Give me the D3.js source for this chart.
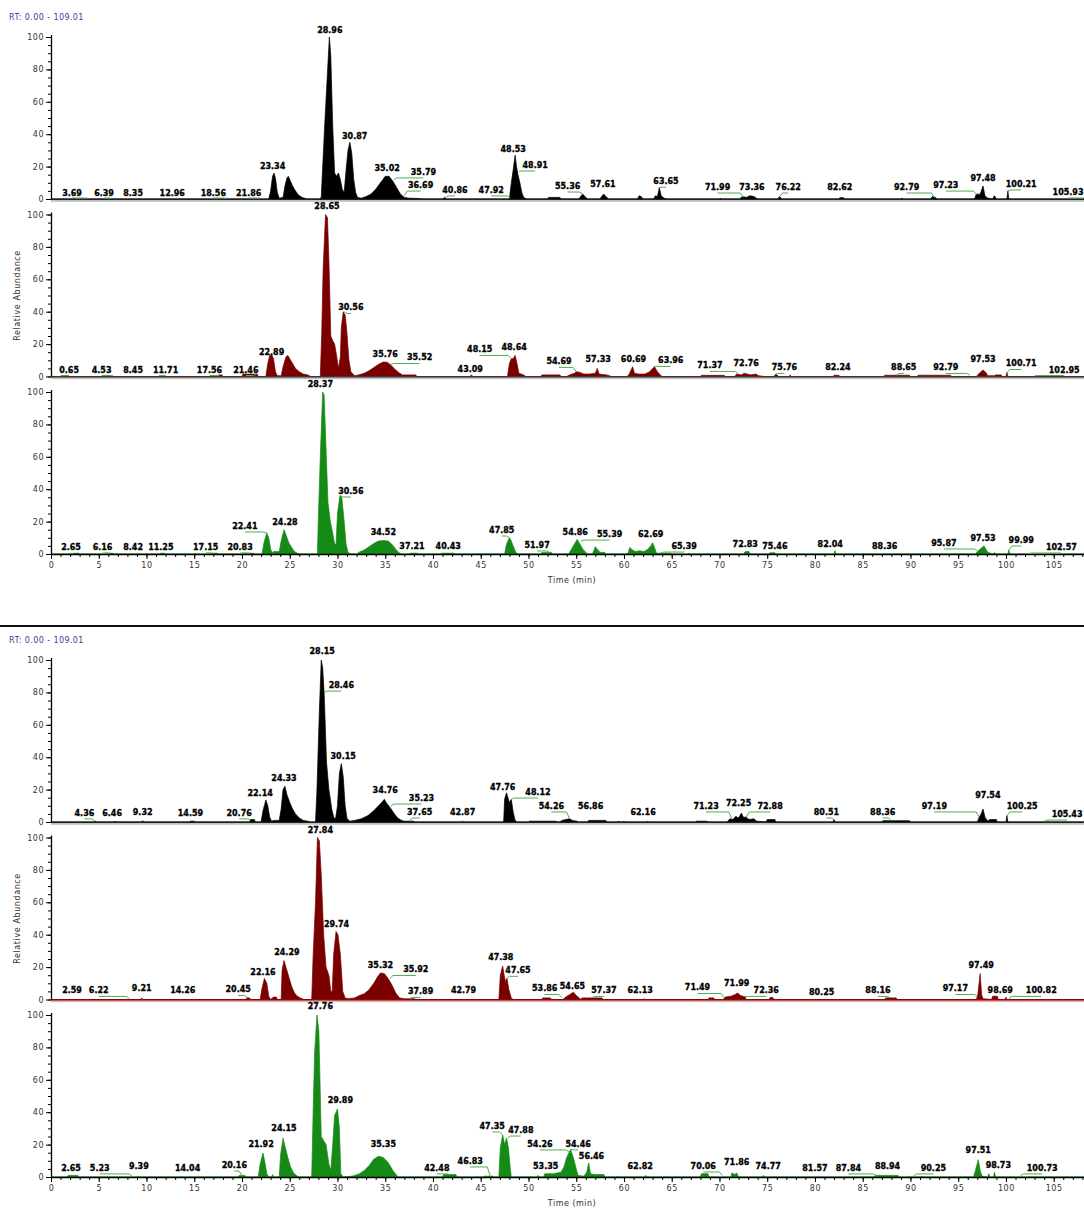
<!DOCTYPE html>
<html>
<head>
<meta charset="utf-8">
<script src="https://cdn.jsdelivr.net/npm/d3@7/dist/d3.min.js"></script>
<style>
  body { margin: 0; background: #fff; }
  svg { display: block; }
  text { font-family: "DejaVu Sans", sans-serif; }
</style>
</head>
<body>
<svg id="chart"></svg>
<script>
const W = 1084, H = 1209;

// retention time window and axis ticks
const rtRange = [0, 109.01];
const yTickLabels = [0, 20, 40, 60, 80, 100];
const xTickLabels = [0, 5, 10, 15, 20, 25, 30, 35, 40, 45, 50, 55, 60, 65, 70, 75, 80, 85, 90, 95, 100, 105];
const headerText = 'RT: 0.00 - 109.01';

// traces: [time (min), relative abundance]
const trace1 = [[0,0],[2.3,0],[2.4,0.4],[2.6,0],[22.8,0],[23.0,5],[23.2,14],[23.35,16],[23.5,13],[23.7,4],[23.9,0.5],[24.3,1],[24.5,8],[24.7,13],[24.85,14],[25.0,12],[25.3,8],[25.6,5],[25.9,2.5],[26.3,1],[26.8,0],[28.1,0],[28.3,1],[28.45,20],[28.7,50],[28.95,78],[29.15,100],[29.3,88],[29.5,45],[29.7,16],[29.9,14],[30.1,16],[30.3,12],[30.5,6],[30.7,4],[30.9,18],[31.1,30],[31.3,35],[31.5,28],[31.7,12],[31.9,4],[32.1,1],[32.5,0.5],[33.0,1.5],[33.5,3],[34.0,6],[34.5,10],[35.0,14],[35.4,14],[35.8,11],[36.2,7],[36.6,3],[37.0,1],[37.5,0.5],[38.5,0.3],[39.0,0],[41.0,0],[41.2,1],[41.4,0],[48.0,0],[48.2,10],[48.4,18],[48.6,27],[48.75,20],[48.9,15],[49.1,10],[49.3,4],[49.5,1],[49.8,0],[52.0,0],[52.1,1],[53.3,1],[53.4,0],[55.3,0],[55.5,2],[55.7,3],[55.9,1.5],[56.2,0],[57.5,0],[57.7,2],[57.9,3],[58.1,1.5],[58.4,0],[61.4,0],[61.6,2],[61.8,1.5],[62.0,0],[63.1,0],[63.3,2],[63.5,1.5],[63.7,7],[63.9,2],[64.2,0.5],[64.5,0],[70.0,0],[70.1,0.6],[70.2,0],[72.1,0],[72.4,1.5],[72.8,1],[73.2,2],[73.6,1.5],[74.0,0],[76.1,0],[76.3,1.5],[76.5,0],[82.5,0],[82.6,0.8],[83.0,0.8],[83.1,0],[89.0,0],[89.1,0.6],[89.2,0],[92.1,0],[92.3,1.5],[92.6,1],[92.8,0],[96.7,0],[96.9,3],[97.3,3],[97.6,8],[97.8,2],[98.1,0.5],[98.6,0],[98.8,2],[99.0,0],[100.1,0],[100.2,5],[100.3,0],[109.01,0]];
const trace2 = [[0,0],[1.0,0],[1.1,0.5],[1.7,0.5],[1.8,0],[17.5,0],[17.6,1],[17.9,1],[18.0,0],[20.0,0],[20.1,1.5],[21.6,1.5],[21.7,0],[22.5,0],[22.7,8],[22.9,13],[23.1,13.6],[23.3,11],[23.5,3],[23.7,0.5],[24.1,0.5],[24.3,6],[24.6,12],[24.8,13],[25.0,11],[25.3,8],[25.6,5],[26.0,3],[26.4,1.5],[26.9,1],[27.2,0],[28.2,0],[28.35,27],[28.5,67],[28.75,100],[28.95,98],[29.1,72],[29.3,25],[29.5,22],[29.7,20],[29.9,13],[30.1,5],[30.3,12],[30.4,30],[30.6,40],[30.8,38],[30.95,30],[31.2,10],[31.4,3],[31.8,0.5],[32.2,1],[32.8,2],[33.3,3.5],[33.8,5.5],[34.3,7.5],[34.8,9],[35.2,8.8],[35.6,7],[36.0,4.5],[36.4,2.5],[36.8,1],[37.0,1],[38.2,1],[38.3,0],[43.9,0],[44.0,1],[44.2,0],[47.8,0],[48.0,8],[48.2,11],[48.4,11],[48.6,13],[48.8,8],[49.0,2],[49.5,1],[49.7,0],[51.3,0],[51.4,1],[53.3,1],[53.4,0],[54.0,0],[54.3,1],[54.8,2],[55.0,3],[55.4,2.5],[55.8,1.5],[56.4,1.5],[57.0,2],[57.2,5],[57.4,1.5],[58.2,1],[58.7,0],[60.3,0],[60.5,1],[60.9,6],[61.1,2],[61.5,1.5],[62.2,1.5],[62.7,3],[63.0,5],[63.2,6],[63.5,3],[63.8,1],[64.0,0],[68.0,0],[68.1,0.7],[70.5,0.7],[70.6,0],[71.6,0],[71.8,1.5],[72.3,1],[72.6,2],[72.9,1.5],[73.3,1],[73.8,1.5],[74.1,0.5],[74.7,0],[75.7,0],[75.9,1.5],[76.2,0],[77.3,0],[77.4,1],[77.5,0],[81.9,0],[82.0,0.8],[82.5,0.8],[82.6,0],[87.2,0],[87.3,0.8],[89.9,0.8],[90.0,0],[90.7,0],[90.8,0.8],[94.2,0.8],[94.3,0],[96.9,0],[97.2,2],[97.6,4],[97.9,2.5],[98.1,0.5],[98.8,0.5],[98.9,1],[99.5,1],[99.6,0],[100.0,0],[100.1,2.5],[100.2,0],[109.01,0]];
const trace3 = [[0,0],[2.3,0],[2.4,0.5],[2.9,0.5],[3.0,0],[5.6,0],[5.7,0.5],[6.5,0.5],[6.6,0],[11.4,0],[11.5,0.5],[11.9,0.5],[12.0,0],[16.3,0],[16.4,0.5],[17.4,0.5],[17.5,0],[19.9,0],[20.0,0.5],[21.2,0.5],[21.3,0],[22.1,0],[22.3,7],[22.6,13],[22.8,10],[23.0,3],[23.2,0.5],[23.3,1.5],[23.9,1.5],[24.1,8],[24.4,15],[24.6,12],[24.9,7],[25.2,4],[25.5,1.5],[25.8,0.5],[26.1,0],[27.9,0],[28.0,23],[28.2,60],[28.45,100],[28.6,98],[28.8,65],[29.0,32],[29.25,20],[29.5,13],[29.7,6],[29.85,6],[30.0,25],[30.25,36],[30.45,35],[30.7,20],[30.9,6],[31.1,1],[31.4,0],[32.0,0],[32.2,1],[32.8,2.5],[33.3,4.5],[33.8,6.5],[34.3,8],[34.8,8.3],[35.3,8],[35.7,6],[36.1,3],[36.4,1],[36.7,0],[37.5,0],[37.6,0.5],[38.4,0.5],[38.5,0],[40.8,0],[40.9,0.5],[42.2,0.5],[42.3,0],[47.5,0],[47.7,6],[48.0,10],[48.2,8],[48.4,5],[48.6,2],[48.8,0],[51.3,0],[51.4,1],[52.4,1],[52.5,0],[54.2,0],[54.5,3],[54.8,6],[55.1,9],[55.4,6],[55.7,3],[56.0,1],[56.2,0],[56.7,0],[56.9,3],[57.0,4.5],[57.2,3],[57.5,1],[58.0,1],[58.1,0],[60.4,0],[60.6,4],[60.9,2.5],[61.2,1.5],[61.6,2],[62.1,1.5],[62.5,3],[62.8,5],[63.0,7],[63.2,4],[63.4,0.5],[64.9,0.5],[65.0,0],[66.7,0],[66.8,0.5],[66.9,0],[72.5,0],[72.7,1.5],[73.1,1.5],[73.2,0],[75.1,0],[75.3,0.8],[75.8,0.8],[75.9,0],[82.0,0],[82.1,2],[82.2,0],[96.8,0],[97.1,2],[97.4,3.5],[97.7,5],[97.9,3],[98.1,1],[98.7,0],[98.8,1],[98.9,0],[100.2,0],[100.3,2.5],[100.4,0],[109.01,0]];
const trace4 = [[0,0],[4.5,0],[4.6,0.5],[4.8,0],[6.6,0],[6.7,0.5],[6.8,0],[9.5,0],[9.6,0.8],[9.7,0],[14.5,0],[14.6,0.5],[15.0,0.5],[15.1,0],[20.8,0],[20.9,1.5],[21.3,1.5],[21.4,0],[22.0,0],[22.2,7],[22.5,13.6],[22.7,10],[22.9,3],[23.1,0.5],[23.3,1],[23.9,1],[24.1,8],[24.3,20],[24.5,22],[24.7,17],[25.0,12],[25.3,8],[25.6,5],[26.0,2.5],[26.4,1],[26.9,0.5],[27.1,0],[27.7,0],[27.85,20],[28.1,68],[28.3,100],[28.45,95],[28.6,80],[28.85,37],[29.1,20],[29.4,8],[29.6,3],[29.8,2],[30.0,10],[30.2,30],[30.4,36],[30.6,28],[30.8,10],[31.0,2],[31.3,0.5],[31.8,1],[32.5,2],[33.2,4],[33.8,7],[34.3,10],[34.7,12.5],[34.9,14],[35.1,12],[35.5,9],[35.9,5.5],[36.3,2.5],[36.7,1],[37.0,0.5],[38.0,0.5],[38.1,0],[43.0,0],[43.1,0.5],[43.2,0],[47.4,0],[47.5,14],[47.7,18],[47.85,15],[48.0,12],[48.2,14],[48.4,6],[48.6,1],[48.8,0],[50.0,0],[50.1,0.5],[52.9,0.5],[53.0,0],[53.3,0],[53.5,1],[53.9,1.5],[54.3,2],[54.6,1],[55.1,0.5],[55.2,0],[56.2,0],[56.3,1],[58.1,1],[58.2,0],[59.4,0],[59.5,0.5],[59.6,0],[59.9,0],[60.0,0.5],[60.1,0],[62.4,0],[62.5,0.5],[62.6,0],[67.5,0],[67.6,0.5],[68.7,0.5],[68.8,0],[70.8,0],[71.1,2],[71.4,1.5],[71.7,3.5],[72.0,2.5],[72.3,5.5],[72.5,3],[72.8,3],[73.1,1.5],[73.6,2],[73.9,0.5],[74.9,0],[75.0,1.5],[75.8,1.5],[75.9,0],[81.9,0],[82.0,1.5],[82.1,0],[87.0,0],[87.1,0.8],[89.9,0.8],[90.0,0],[97.0,0],[97.2,3],[97.4,5],[97.6,8],[97.8,3],[98.1,0.5],[98.3,1.5],[99.0,1.5],[99.1,0],[100.0,0],[100.1,4],[100.2,0],[109.01,0]];
const trace5 = [[0,0],[9.4,0],[9.5,1],[9.6,0],[20.4,0],[20.5,1],[20.8,1],[20.9,0],[21.9,0],[22.1,7],[22.35,13],[22.6,10],[22.8,2],[23.0,0],[23.3,1.5],[23.6,1.5],[23.7,0],[24.1,0],[24.2,18],[24.4,24],[24.6,20],[24.9,14],[25.2,8],[25.5,4],[25.8,2],[26.1,1],[26.5,0],[27.3,0],[27.45,27],[27.7,60],[27.9,100],[28.1,98],[28.3,77],[28.55,40],[28.8,20],[29.1,15],[29.3,5],[29.45,5],[29.6,28],[29.85,42],[30.05,40],[30.3,28],[30.55,5],[30.8,1],[31.1,0.5],[31.8,1],[32.3,2.5],[32.8,3.5],[33.3,6],[33.8,10],[34.2,14],[34.5,16.4],[34.9,16],[35.3,13],[35.7,9],[36.1,4],[36.5,1],[37.0,0.5],[38.1,0.5],[38.2,0],[46.9,0],[47.05,15],[47.3,20.7],[47.45,15],[47.6,11],[47.75,13],[47.95,6],[48.2,1],[48.4,0],[51.4,0],[51.5,1],[52.3,1],[52.4,0],[53.6,0],[53.9,1.5],[54.3,3],[54.7,4.5],[55.0,2.5],[55.3,1],[55.5,0],[55.6,1],[57.7,1],[57.8,0],[62.0,0],[62.1,0.5],[62.2,0],[68.8,0],[68.9,1],[69.4,1],[69.5,0],[70.4,0],[70.6,1.5],[71.2,2],[71.6,3],[71.9,4],[72.2,2.5],[72.7,1.5],[72.8,0],[75.2,0],[75.3,1.2],[75.6,1.2],[75.7,0],[87.3,0],[87.4,1],[88.5,1],[88.6,0],[96.9,0],[97.05,3],[97.3,16],[97.45,3],[97.6,0.5],[98.5,0],[98.6,2],[99.1,2],[99.2,0],[99.9,0],[100.0,1.5],[100.1,0],[109.01,0]];
const trace6 = [[0,0],[1.7,0],[1.8,1],[2.8,1],[2.9,0],[9.0,0],[9.1,0.5],[9.2,0],[19.6,0],[19.7,1],[20.3,1],[20.4,0],[21.7,0],[21.9,8],[22.2,14.8],[22.4,9],[22.6,2],[22.8,0],[23.1,0],[23.2,1.5],[23.3,0],[23.9,0],[24.05,14],[24.3,24],[24.5,19],[24.8,12],[25.1,6],[25.4,2.5],[25.8,0.5],[26.0,0],[27.3,0],[27.45,40],[27.6,76],[27.85,100],[28.05,90],[28.3,25],[28.6,22],[28.8,20],[29.1,8],[29.3,4],[29.5,20],[29.7,38],[30.0,42],[30.2,30],[30.35,2],[30.6,0],[31.5,0.5],[31.8,1],[32.3,2],[32.8,4],[33.3,7],[33.8,11],[34.3,12.8],[34.8,12],[35.3,9],[35.8,4],[36.2,1],[36.4,0],[41.0,0],[41.1,1.5],[42.4,1.5],[42.5,0],[45.3,0],[45.4,0.5],[46.3,0.5],[46.4,0],[46.9,0],[47.05,18],[47.3,26],[47.5,20],[47.7,24],[47.9,18],[48.1,5],[48.2,0],[50.9,0],[51.0,1],[51.1,0],[51.6,0],[51.7,2],[52.6,2],[53.0,2.5],[53.4,3],[53.7,6],[54.0,12],[54.4,17],[54.7,12],[55.0,5],[55.2,1],[55.8,0.5],[56.1,3],[56.3,8.7],[56.5,2],[56.9,1.5],[57.9,1.5],[58.0,0],[59.2,0],[59.3,0.5],[59.4,0],[62.2,0],[62.3,1],[62.4,0],[68.0,0],[68.1,2],[68.8,2],[68.9,0],[71.2,0],[71.3,2.5],[71.6,1.5],[71.8,2.5],[72.0,0],[74.5,0],[74.6,1],[74.7,0],[80.3,0],[80.4,0.5],[80.5,0],[86.2,0],[86.3,1],[88.7,1],[88.8,0],[91.1,0],[91.2,0.5],[91.3,0],[96.6,0],[96.8,4],[97.1,10.7],[97.3,4],[97.5,0.5],[98.1,0],[98.2,2],[98.3,0],[98.7,0],[98.8,3],[98.9,0],[109.01,0]];

// peak labels: [text, label time, label abundance, peak time, peak abundance]
const labels1 = [['3.69',2.2,3.7,3.8,0.5],['6.39',5.55,3.7,6.3,0.5],['8.35',8.6,3.7,8.6,0.3],['12.96',12.7,3.7,12.9,0.3],['18.56',17.0,3.7,18.3,0.5],['21.86',20.7,3.7,21.9,0.5],['23.34',23.2,20.4,23.35,16],['28.96',29.2,104,29.15,100],['30.87',31.8,39,31.3,35],['35.02',35.2,19,35.2,14],['35.79',39.0,16.7,35.9,12],['36.69',38.7,8.6,37.0,2],['40.86',42.3,5.6,41.3,1],['47.92',46.1,5.6,48.1,1],['48.53',48.4,31,48.6,27],['48.91',50.7,21,49.0,17],['55.36',54.1,8,55.7,3],['57.61',57.8,9.3,57.9,3],['63.65',64.4,11,63.7,7],['71.99',69.8,7.4,72.5,1],['73.36',73.4,7.4,73.6,2],['76.22',77.2,7.4,76.3,1.5],['82.62',82.6,7.4,82.7,0.8],['92.79',89.6,7.4,92.5,1],['97.23',93.7,8.6,96.9,3],['97.48',97.6,13,97.6,8],['100.21',101.6,9.3,100.2,5],['105.93',106.5,4.3,108.5,0.5]];
const labels2 = [['0.65',1.9,3.7,1.0,0.5],['4.53',5.3,3.7,6.5,0.5],['8.45',8.6,3.7,8.6,0.3],['11.71',12.0,3.7,11.3,0.5],['17.56',16.6,3.7,17.7,1],['21.46',20.4,3.7,21.5,1.5],['22.89',23.1,14.8,23.1,13.6],['28.65',28.9,105,28.8,100],['30.56',31.4,42.6,30.7,40],['35.76',35.0,13.6,34.9,9],['35.52',38.6,11.7,35.6,7.5],['43.09',43.9,4.3,44.1,1],['48.15',44.9,16.7,48.2,11],['48.64',48.5,17.9,48.6,13],['54.69',53.2,9.3,55.0,3],['57.33',57.3,10.5,57.2,5],['60.69',61.0,10.5,60.9,6],['63.96',64.9,9.9,63.1,6],['71.37',69.0,6.8,72.0,1.5],['72.76',72.8,8,72.9,2],['75.76',76.8,5.6,75.9,1.5],['82.24',82.4,5.6,82.3,0.8],['88.65',89.3,5.6,88.5,0.8],['92.79',93.7,5.6,96.2,1],['97.53',97.6,10.5,97.6,4],['100.71',101.6,8,100.1,2.5],['102.95',106.1,3.7,103.0,0.5]];
const labels3 = [['2.65',2.1,4.3,2.6,0.5],['6.16',5.4,4.3,6.1,0.5],['8.42',8.6,4.3,8.4,0.3],['11.25',11.5,4.3,11.6,0.5],['17.15',16.2,4.3,16.9,0.5],['20.83',19.8,4.3,20.8,0.5],['22.41',20.3,17.3,22.6,13],['24.28',24.5,19.8,24.4,15],['28.37',28.2,104.6,28.45,100],['30.56',31.4,38.9,30.3,36],['34.52',34.8,13.6,34.7,8.3],['37.21',37.8,4.9,38.0,0.5],['40.43',41.6,4.9,41.5,0.5],['47.85',47.2,14.8,48.0,10],['51.97',50.9,5.6,52.2,1],['54.86',54.9,13.6,55.1,9],['55.39',58.5,12.3,55.5,8],['62.69',62.8,12.3,63.0,7],['65.39',66.3,4.9,63.8,0.5],['72.83',72.7,6.2,72.9,1.5],['75.46',75.8,4.9,75.5,0.8],['82.04',81.6,6.2,82.1,2],['88.36',87.3,4.9,87.5,0.3],['95.87',93.5,6.8,97.0,2],['97.53',97.6,9.9,97.7,5],['99.99',101.6,8.6,100.3,2.5],['102.57',105.8,4.3,102.5,0.5]];
const labels4 = [['4.36',3.5,5.6,4.6,0.5],['6.46',6.4,5.6,6.7,0.5],['9.32',9.6,6.2,9.6,0.8],['14.59',14.6,5.6,14.7,0.5],['20.76',19.7,5.6,20.9,1.5],['22.14',21.9,18,22.5,13.6],['24.33',24.4,27,24.5,22],['28.15',28.4,105.6,28.3,100],['28.46',30.4,84.5,28.6,80],['30.15',30.6,40.7,30.4,36],['34.76',35.0,19.8,34.9,14],['35.23',38.8,14.8,35.6,10],['37.65',38.6,6.2,37.5,0.5],['42.87',43.1,6.2,43.1,0.5],['47.76',47.3,21.6,47.7,18],['48.12',51.0,18.5,48.2,14],['54.26',52.4,9.9,54.3,2],['56.86',56.5,9.9,56.5,1],['62.16',62.0,6.2,62.5,0.5],['71.23',68.6,9.9,71.3,2],['72.25',72.0,11.7,72.3,5.5],['72.88',75.3,9.9,72.8,3],['80.51',81.2,6.2,82.0,1.5],['88.36',87.1,6.2,88.0,0.8],['97.19',92.5,9.9,97.2,3],['97.54',98.1,16.7,97.6,8],['100.25',101.7,9.9,100.1,4],['105.43',106.4,4.9,104.0,0.5]];
const labels5 = [['2.59',2.2,5.6,2.6,0.5],['6.22',5.0,5.6,8.2,0.5],['9.21',9.5,6.8,9.5,1],['14.26',13.8,5.6,14.3,0.3],['20.45',19.6,6.2,20.6,1],['22.16',22.2,17,22.35,13],['24.29',24.7,29,24.4,24],['27.84',28.2,104.3,27.9,100],['29.74',29.9,46.3,29.85,42],['35.32',34.5,21,34.5,16.4],['35.92',38.2,18.5,35.5,13],['37.89',38.7,4.9,37.5,0.5],['42.79',43.2,5.6,43.2,0.3],['47.38',47.1,26,47.3,20.7],['47.65',48.9,18,47.7,13],['53.86',51.7,6.8,53.5,1],['54.65',54.6,8,54.7,4.5],['57.37',57.9,5.6,56.6,1],['62.13',61.7,5.6,62.1,0.5],['71.49',67.7,7.4,70.5,1],['71.99',71.8,9.9,71.9,4],['72.36',74.9,5.6,72.6,2],['80.25',80.7,4.3,80.3,0.3],['88.16',86.6,5.6,87.9,1],['97.17',94.7,6.8,97.0,2],['97.49',97.4,21,97.3,16],['98.69',99.4,5.6,98.8,2],['100.82',103.7,5.6,100.3,0.5]];
const labels6 = [['2.65',2.1,5.6,2.5,1],['5.23',5.1,5.6,8.5,0.5],['9.39',9.2,6.8,9.2,0.5],['14.04',14.3,5.6,14.3,0.3],['20.16',19.2,7.4,20.0,1],['21.92',22.0,20.4,22.2,14.8],['24.15',24.4,30,24.3,24],['27.76',28.2,105.6,27.85,100],['29.89',30.3,47.5,30.0,42],['35.35',34.8,20.4,34.3,12.8],['42.48',40.4,5.6,41.8,1.5],['46.83',43.9,9.9,46.0,0.5],['47.35',46.2,31.5,47.3,26],['47.88',49.2,29,47.8,24],['54.26',51.2,20.4,54.3,15],['53.35',51.8,6.8,52.3,2],['54.46',55.2,20.4,54.4,17],['56.46',56.6,13,56.3,8.7],['62.82',61.7,6.8,62.3,1],['70.06',68.3,6.8,70.3,1],['71.86',71.8,9.3,71.6,2.5],['74.77',75.1,6.8,74.6,1],['81.57',80.0,5.6,80.4,0.5],['87.84',83.5,5.6,86.4,1],['88.94',87.6,6.8,88.0,1],['90.25',92.4,5.6,90.3,0.5],['97.51',97.1,16.7,97.1,10.7],['98.73',99.2,7.4,98.8,3],['100.73',103.8,5.6,101.5,0.5]];

const panels = [
  { trace: trace1, labels: labels1, fill: '#000000', base: '#222', shade: '#bdbdbd', fig: 0, row: 0 },
  { trace: trace2, labels: labels2, fill: '#7a0000', base: '#333', shade: '#c4c4c4', fig: 0, row: 1 },
  { trace: trace3, labels: labels3, fill: '#168a16', base: '#000', shade: null, fig: 0, row: 2 },
  { trace: trace4, labels: labels4, fill: '#000000', base: '#222', shade: '#bdbdbd', fig: 1, row: 0 },
  { trace: trace5, labels: labels5, fill: '#7a0000', base: '#8a0000', shade: '#e6b3b3', fig: 1, row: 1 },
  { trace: trace6, labels: labels6, fill: '#168a16', base: '#000', shade: null, fig: 1, row: 2 }
];

const figTop = [37, 660];
const rowStep = 177.5;
const panelH = 162;
const axisX = 51;

const svg = d3.select('#chart').attr('width', W).attr('height', H);

const x = d3.scaleLinear().domain(rtRange).range([axisX, 1092]);

// headers, separator
figTop.forEach(top => {
  svg.append('text')
    .attr('x', 9).attr('y', top - 17)
    .attr('font-size', 8).attr('letter-spacing', 0.4)
    .attr('fill', '#3c3c9c')
    .text(headerText);
});
svg.append('line')
  .attr('x1', 0).attr('x2', W).attr('y1', 626).attr('y2', 626)
  .attr('stroke', '#111').attr('stroke-width', 2);

const area = (y, y0) => d3.area()
  .x(d => x(d[0]))
  .y0(y0)
  .y1(d => y(d[1]));

const leader = '#4cb04c';

panels.forEach(p => {
  const yTop = figTop[p.fig] + p.row * rowStep;
  const yBase = yTop + panelH;
  const y = d3.scaleLinear().domain([0, 100]).range([yBase, yTop]);
  const g = svg.append('g');

  // trace
  g.append('path')
    .datum(p.trace)
    .attr('d', area(y, yBase))
    .attr('fill', p.fill)
    .attr('stroke', p.fill)
    .attr('stroke-width', 0.7)
    .attr('stroke-linejoin', 'round');

  // baseline / x axis
  if (p.row < 2) {
    g.append('line')
      .attr('x1', axisX).attr('x2', W)
      .attr('y1', yBase + 0.5).attr('y2', yBase + 0.5)
      .attr('stroke', p.base).attr('stroke-width', 1.5);
    g.append('line')
      .attr('x1', axisX).attr('x2', W)
      .attr('y1', yBase + 2).attr('y2', yBase + 2)
      .attr('stroke', p.shade).attr('stroke-width', 1.5);
  } else {
    const minor = g.append('g')
      .attr('transform', `translate(0,${yBase})`)
      .call(d3.axisBottom(x).tickValues(d3.range(0, 110, 1)).tickSize(3).tickFormat(''));
    minor.select('.domain').remove();
    const ax = g.append('g')
      .attr('transform', `translate(0,${yBase})`)
      .call(d3.axisBottom(x).tickValues(xTickLabels).tickSize(5).tickSizeOuter(0).tickPadding(3));
    ax.select('.domain').attr('stroke-width', 1.6);
    ax.selectAll('text')
      .attr('font-size', 8).attr('font-family', '"DejaVu Sans", sans-serif')
      .attr('letter-spacing', 0.6).attr('fill', '#333');
    g.selectAll('.tick line').attr('stroke', '#000');

    g.append('text')
      .attr('x', 572).attr('y', yBase + 29)
      .attr('text-anchor', 'middle')
      .attr('font-size', 8).attr('letter-spacing', 0.5)
      .attr('fill', '#333')
      .text('Time (min)');
  }

  // y axis
  const yMinor = g.append('g')
    .attr('transform', `translate(${axisX},0)`)
    .call(d3.axisLeft(y).tickValues(d3.range(0, 101, 5)).tickSize(3).tickFormat(''));
  yMinor.select('.domain').remove();
  const yAx = g.append('g')
    .attr('transform', `translate(${axisX},0)`)
    .call(d3.axisLeft(y).tickValues(yTickLabels).tickSize(5).tickSizeOuter(0).tickPadding(2));
  yAx.select('.domain').attr('stroke-width', 1.3).attr('d', `M0.5,${yBase}V${yTop - 2}`);
  yAx.selectAll('text')
    .attr('font-size', 8).attr('font-family', '"DejaVu Sans", sans-serif')
    .attr('letter-spacing', 0.5).attr('fill', '#333');

  if (p.row === 1) {
    g.append('text')
      .attr('transform', `translate(20,${yBase - panelH / 2}) rotate(-90)`)
      .attr('text-anchor', 'middle')
      .attr('font-size', 8).attr('letter-spacing', 0.6)
      .attr('fill', '#333')
      .text('Relative Abundance');
  }

  // leader lines and peak labels
  p.labels.forEach(([txt, lt, lv, pt, pv]) => {
    const lx = x(lt), ly = y(lv);
    const px = x(pt), py = y(pv);
    if (Math.abs(lx - px) > 6) {
      const yl = Math.min(ly + 6, yBase - 1);
      const dir = lx > px ? 1 : -1;
      g.append('polyline')
        .attr('points', [[px, py], [px + dir * 3, yl], [lx, yl]].map(d => d.join(',')).join(' '))
        .attr('fill', 'none')
        .attr('stroke', leader)
        .attr('stroke-width', 1);
    }
    g.append('text')
      .attr('x', lx).attr('y', ly)
      .attr('dy', '0.35em')
      .attr('text-anchor', 'middle')
      .attr('font-size', 8).attr('font-weight', 'bold')
      .attr('fill', '#000')
      .attr('stroke', '#000').attr('stroke-width', 0.3)
      .text(txt);
  });
});
</script>
</body>
</html>
